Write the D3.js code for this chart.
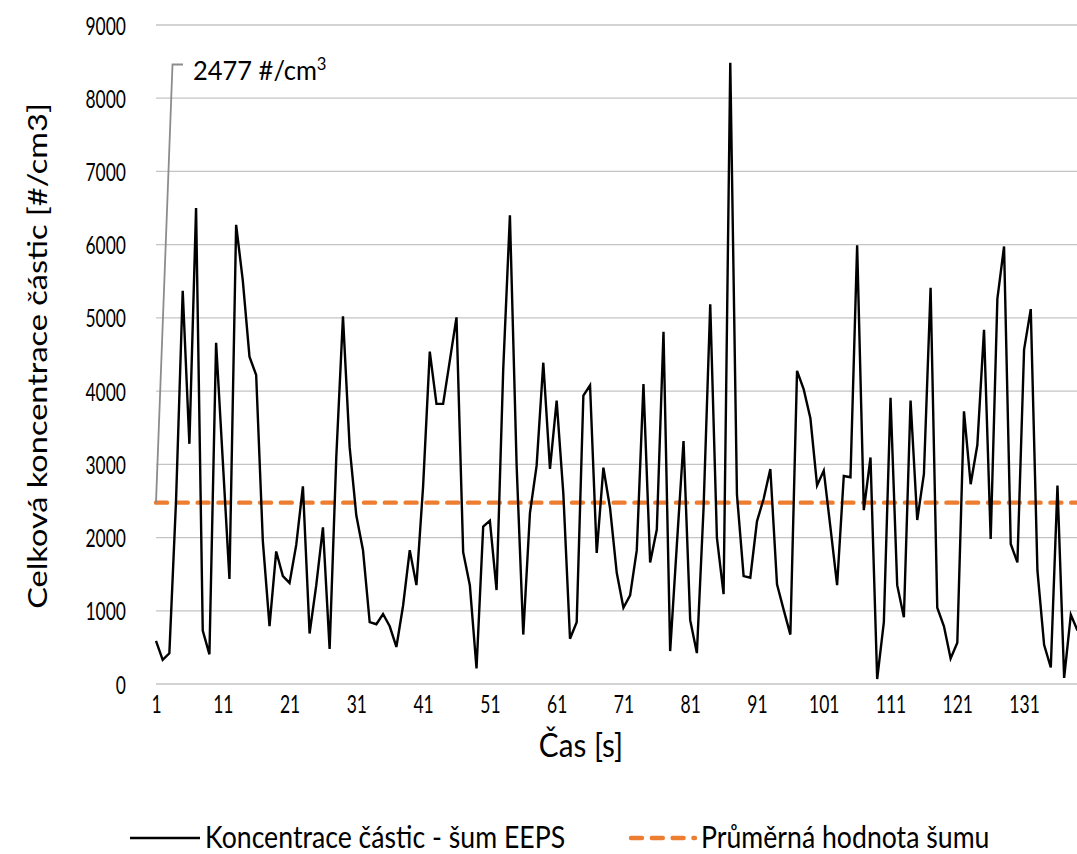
<!doctype html>
<html>
  <head>
    <meta charset="UTF-8">
    <title>Šum EEPS</title>
    <script src="https://d3js.org/d3.v7.min.js"></script>
    <style>
      body { margin: 0; background: #fff; }
      svg text { font-family: Lato, "Open Sans", sans-serif; fill: #000; }
      .grid line { stroke: #c4c4c4; stroke-width: 1.3px; }
    </style>
  </head>
  <body>
    <svg id="chart" width="1077" height="854"></svg>
    <script>
      // Time [s] runs 1..139 (the picture is cut at the right edge)
      const noise = [
        590, 330, 420, 2500, 5370, 3280, 6500, 730, 405, 4660,
        3050, 1435, 6270, 5510, 4470, 4220, 1950, 790, 1810, 1474,
        1380, 1900, 2700, 690, 1350, 2140, 480, 3100, 5020, 3235,
        2300, 1828, 844, 816, 956, 788, 506, 1069, 1828, 1350,
        2700, 4540, 3826, 3826, 4416, 5007, 1800, 1350, 214, 2150,
        2230, 1283, 4300, 6400, 3000, 675, 2335, 2982, 4388, 2937,
        3871, 2600, 619, 844, 3938, 4079, 1789, 2954, 2400, 1519,
        1041, 1210, 1828, 4096, 1660, 2110, 4810, 450, 1900, 3319,
        872, 422, 2400, 5187, 1997, 1226, 8484, 2588, 1474, 1451,
        2222, 2530, 2937, 1361, 1013, 675, 4276, 4023, 3629, 2712,
        2914, 2138, 1350, 2841, 2824, 5992, 2374, 3094, 68, 844,
        3910, 1350, 911, 3871, 2239, 2869, 5412, 1041, 788, 349,
        563, 3724, 2729, 3263, 4838, 1980, 5260, 5975, 1913, 1660,
        4568, 5120, 1547, 534, 225, 2712, 84, 945, 731
      ];
      const times = noise.map((d, i) => i + 1);
      const meanNoise = 2477;
      const xTicks = [1, 11, 21, 31, 41, 51, 61, 71, 81, 91, 101, 111, 121, 131];
      const yTicks = [0, 1000, 2000, 3000, 4000, 5000, 6000, 7000, 8000, 9000];
      const seriesNames = ["Koncentrace částic - šum EEPS", "Průměrná hodnota šumu"];

      // the original picture is squeezed sideways, so text is narrowed
      const squeeze = k => `scale(${k},1)`;

      const svg = d3.select("#chart");
      const x = d3.scaleLinear().domain([1, 139]).range([156, 1077.5]);
      const y = d3.scaleLinear().domain([0, 9000]).range([684, 25]);

      // gridlines
      svg.append("g").attr("class", "grid")
        .selectAll("line").data(yTicks).enter().append("line")
          .attr("x1", 156).attr("x2", 1077)
          .attr("y1", d => y(d)).attr("y2", d => y(d));

      // y axis labels
      svg.append("g")
        .call(d3.axisLeft(y).tickValues(yTicks).tickFormat(d3.format("d")).tickSize(0).tickPadding(0))
        .attr("transform", "translate(126,0)")
        .call(g => g.select(".domain").remove())
        .selectAll("text").style("font-size", "25px").attr("dy", "0.36em")
          .attr("transform", squeeze(0.7));

      // x axis labels
      svg.append("g").call(d3.axisBottom(x).tickValues(xTicks).tickSize(0).tickPadding(0))
        .attr("transform", "translate(0,694)")
        .call(g => g.select(".domain").remove())
        .selectAll("text").style("font-size", "25px").attr("dy", "0.75em")
          .attr("transform", squeeze(0.7));

      // axis titles
      svg.append("text").attr("transform", `translate(581,757) ${squeeze(0.9)}`)
        .attr("text-anchor", "middle").style("font-size", "33px").text("Čas [s]");
      svg.append("text").attr("transform", `translate(47,356) ${squeeze(0.85)} rotate(-90)`)
        .attr("text-anchor", "middle").style("font-size", "32.5px")
        .text("Celková koncentrace částic [#/cm3]");

      // mean line
      svg.append("line")
        .attr("x1", x(1)).attr("x2", 1077)
        .attr("y1", y(meanNoise)).attr("y2", y(meanNoise))
        .attr("stroke", "#ed7d31").attr("stroke-width", 4.4)
        .attr("stroke-dasharray", "11,9.8").attr("stroke-linecap", "round");

      // noise series
      const line = d3.line().x((d, i) => x(times[i])).y(d => y(d));
      svg.append("path").datum(noise)
        .attr("d", line).attr("fill", "none")
        .attr("stroke", "#000").attr("stroke-width", 2.4)
        .attr("stroke-linejoin", "miter");

      // data label with leader line
      svg.append("path")
        .attr("d", `M${x(1)},${y(meanNoise)} L172.5,64.5 L183,64.5`)
        .attr("fill", "none").attr("stroke", "#8c8c8c").attr("stroke-width", 1.8);
      const lbl = svg.append("text").attr("transform", `translate(193,80) ${squeeze(0.98)}`)
        .style("font-size", "26px");
      lbl.append("tspan").text("2477 #/cm");
      lbl.append("tspan").attr("dy", -10).style("font-size", "17px").text("3");

      // legend
      const leg = svg.append("g");
      leg.append("line").attr("x1", 130).attr("x2", 200).attr("y1", 838).attr("y2", 838)
        .attr("stroke", "#000").attr("stroke-width", 2.4);
      leg.append("text").attr("transform", `translate(205,848) ${squeeze(0.86)}`)
        .style("font-size", "31px").text(seriesNames[0]);
      leg.append("line").attr("x1", 631).attr("x2", 695).attr("y1", 838).attr("y2", 838)
        .attr("stroke", "#ed7d31").attr("stroke-width", 4.4)
        .attr("stroke-dasharray", "11,9.8").attr("stroke-linecap", "round");
      leg.append("text").attr("transform", `translate(701,848) ${squeeze(0.86)}`)
        .style("font-size", "31px").text(seriesNames[1]);
    </script>
  </body>
</html>
